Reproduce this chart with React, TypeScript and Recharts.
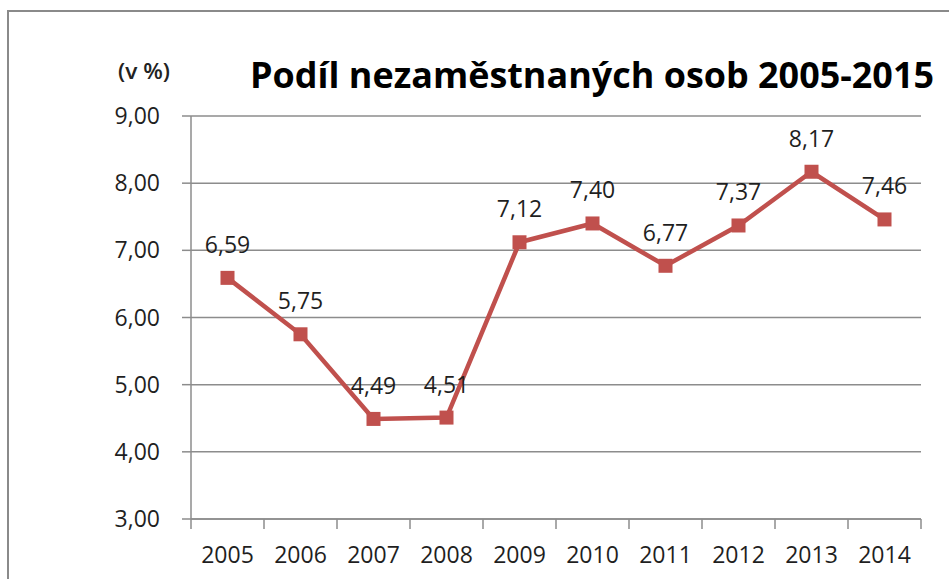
import React from "react";
import { LineChart, Line, XAxis, YAxis, CartesianGrid, LabelList } from "recharts";

const years = ["2005", "2006", "2007", "2008", "2009", "2010", "2011", "2012", "2013", "2014"];
const values = [6.59, 5.75, 4.49, 4.51, 7.12, 7.4, 6.77, 7.37, 8.17, 7.46];
const yTicks = [3, 4, 5, 6, 7, 8, 9];
const title = "Podíl nezaměstnaných osob 2005-2015";
const unitLabel = "(v %)";

const W = 949;
const H = 579;
const MARGIN = { top: 116, right: 28, bottom: 30, left: 91 };
const Y_AXIS_W = 100;
const PLOT_W = W - MARGIN.left - Y_AXIS_W - MARGIN.right;
const HALF_BAND = PLOT_W / years.length / 2;

const RED = "#C0504D";
const GRID = "#8C8C8C";
const FONT = "'Open Sans', sans-serif";
const TXT = "#1f1f1f";

const data = years.map((y, i) => ({ pos: i + 0.5, year: y, value: values[i] }));
const xTicks = Array.from({ length: years.length + 1 }, (_, i) => i);

const fmt = (v: number) => v.toFixed(2).replace(".", ",");

const XTick = (props: any) => {
  const { x, y, payload } = props;
  const i = payload.value;
  if (i >= years.length) return null;
  return (
    <text x={x + HALF_BAND} y={y} dy="0.71em" textAnchor="middle" fontFamily={FONT} fontSize={23} fill={TXT}>
      {years[i]}
    </text>
  );
};

const SquareDot = (p: any) => (
  <rect key={`d${p.index}`} x={p.cx - 7} y={p.cy - 7} width={14} height={14} fill={RED} />
);

export default function App() {
  return (
    <div style={{ position: "absolute", left: 0, top: 0, width: W, height: H, overflow: "hidden", background: "#fff" }}>
      <div
        style={{
          position: "absolute",
          left: 7,
          top: 10,
          width: 1000,
          height: 700,
          border: "2px solid #8a8a8a",
          boxSizing: "border-box",
        }}
      />
      <div style={{ position: "absolute", left: 0, top: 0 }}>
        <LineChart width={W} height={H} data={data} margin={MARGIN}>
          <CartesianGrid horizontal vertical={false} stroke={GRID} strokeWidth={1.5} />
          <XAxis
            dataKey="pos"
            type="number"
            domain={[0, years.length]}
            ticks={xTicks}
            interval={0}
            height={MARGIN.bottom}
            stroke={GRID}
            strokeWidth={1.5}
            tickSize={10}
            tickMargin={18}
            tick={<XTick />}
          />
          <YAxis
            type="number"
            domain={[3, 9]}
            ticks={yTicks}
            width={Y_AXIS_W}
            stroke={GRID}
            strokeWidth={1.5}
            tickSize={9}
            tickMargin={22}
            tickFormatter={fmt}
            tick={{ fontFamily: FONT, fontSize: 23, fill: TXT }}
          />
          <Line
            dataKey="value"
            stroke={RED}
            strokeWidth={4.5}
            dot={SquareDot}
            activeDot={false}
            isAnimationActive={false}
          >
            <LabelList
              dataKey="value"
              position="top"
              offset={25}
              formatter={(v: any) => fmt(Number(v))}
              style={{ fontFamily: FONT, fontSize: 23, fill: TXT }}
            />
          </Line>
          <text
            x={592}
            y={88}
            textAnchor="middle"
            fontFamily={FONT}
            fontWeight={700}
            fontSize={35}
            fill="#000"
            textLength={684}
            lengthAdjust="spacingAndGlyphs"
          >
            {title}
          </text>
          <text
            x={144}
            y={79}
            textAnchor="middle"
            fontFamily={FONT}
            fontWeight={600}
            fontSize={22}
            fill="#222"
            textLength={52}
            lengthAdjust="spacingAndGlyphs"
          >
            {unitLabel}
          </text>
        </LineChart>
      </div>
    </div>
  );
}
